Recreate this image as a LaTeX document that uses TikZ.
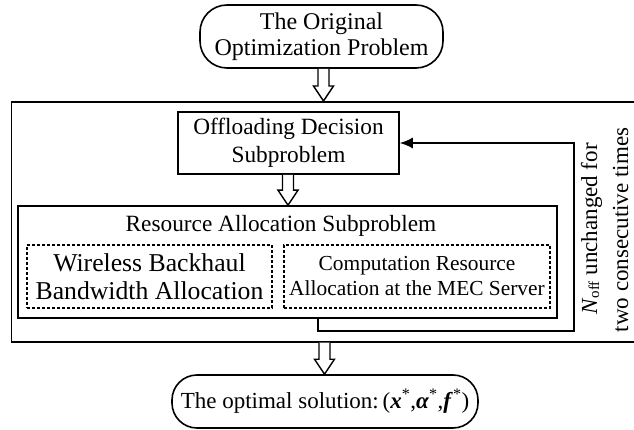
\documentclass[tikz,border=0pt]{standalone}
\usepackage{fontspec}
\setmainfont{Liberation Serif}
\usetikzlibrary{calc,arrows.meta}
\newcommand{\blkarr}[2]{\draw[blk] ($(#1)+(-5.5,0)$) -- ($(#2)+(-5.5,-15)$) -- ($(#2)+(-10,-15)$) -- (#2) -- ($(#2)+(10,-15)$) -- ($(#2)+(5.5,-15)$) -- ($(#1)+(5.5,0)$);}
\newcommand{\fsz}[2]{\fontsize{#1}{#2}\selectfont}
\begin{document}
\begin{tikzpicture}[x=1pt,y=-1pt,
  every node/.style={align=center, inner sep=0pt},
  pill/.style={draw, line width=1.6pt, rounded corners=27pt},
  box/.style={draw, line width=1.6pt},
  dbox/.style={draw, line width=1.1pt, dash pattern=on 3pt off 2pt},
  flow/.style={line width=1.6pt},
  blk/.style={draw, line width=1.4pt, fill=white, line join=miter}
]
\useasboundingbox (0,0) rectangle (634,430);
\node[box, minimum width=630pt, minimum height=240pt, anchor=north west] (outer) at (10.7,101) {};
\node[pill, minimum width=243pt, minimum height=63pt, font=\fsz{24}{26}] (top) at (321.5,36.5) {The Original\\Optimization Problem};
\node[box, minimum width=221pt, minimum height=62pt, font=\fsz{23.3}{28}] (off) at (288.5,143) {Offloading Decision\\Subproblem};
\node[box, minimum width=539pt, minimum height=112pt] (res) at (287.5,262) {};
\node[anchor=base, font=\fsz{23.3}{28}] (restitle) at (281,232) {Resource Allocation Subproblem};
\node[dbox, minimum width=245pt, minimum height=63pt, font=\fsz{25.7}{28}] (wb) at (149.5,276.5) {Wireless Backhaul\\Bandwidth Allocation};
\node[dbox, minimum width=266pt, minimum height=63pt, font=\fsz{21.4}{25}] (cr) at (417,276.5) {Computation Resource\\Allocation at the MEC Server};
\node[pill, rounded corners=25pt, minimum width=306pt, minimum height=53pt, font=\fsz{23}{26}] (sol) at (325,401.5) {The optimal solution:\,(\textbf{\textit{x}}\textsuperscript{*},\textbf{\textit{α}}\textsuperscript{*},\textbf{\textit{f}}\textsuperscript{*})};
\node[rotate=90, anchor=base, font=\fsz{23}{28}] (cond1) at (597,229) {\textit{N}\raisebox{-2pt}{\fsz{15}{15}off} unchanged for};
\node[rotate=90, anchor=base, font=\fsz{23}{28}] (cond2) at (628,230) {two consecutive times};
\coordinate (fb) at (318,0);
\coordinate (fbc) at (574,331);
\draw[flow, -{Latex[length=13pt,width=11pt]}] (res.south -| fb) |- (fbc) |- (off.east);
\coordinate (a1) at (323.5,0);
\coordinate (a2) at (288,0);
\coordinate (a3) at (324.5,0);
\blkarr{top.south -| a1}{outer.north -| a1}
\blkarr{off.south -| a2}{res.north -| a2}
\blkarr{outer.south -| a3}{sol.north -| a3}
\end{tikzpicture}
\end{document}
